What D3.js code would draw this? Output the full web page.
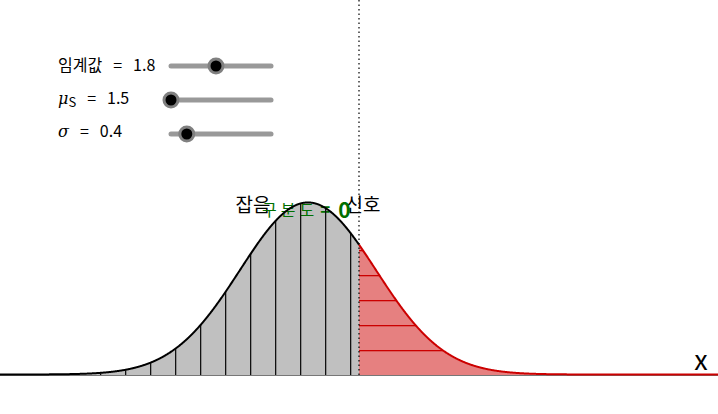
<!DOCTYPE html>
<html>
<head>
<meta charset="utf-8">
<script src="https://cdn.jsdelivr.net/npm/d3@7"></script>
<style>
  html, body { margin: 0; padding: 0; background: #fff; }
  svg { display: block; font-family: "Noto Sans CJK KR", "DejaVu Sans", sans-serif; }
</style>
</head>
<body>
<svg id="chart" width="718" height="414"></svg>
<script>
// Model parameters (signal detection: noise vs. signal distributions)
const threshold = 1.8;      // 임계값
const muS = 1.5;            // signal mean
const muN = 1.5;            // noise mean
const sigma = 0.4;          // common standard deviation
const dPrime = (muS - muN) / sigma;

// Slider definitions: value and range
const sliderNames = ["threshold", "muS", "sigma"];
const sliderValues = [threshold, muS, sigma];
const sliderMins = [0, 1.5, 0.1];
const sliderMaxs = [4, 5, 2];

// Distribution labels
const curveLabels = ["잡음", "신호"];
const axisLabel = "x";

const W = 718, H = 414;
const svg = d3.select("#chart");

const x = d3.scaleLinear().domain([-0.31, 3.91]).range([0, W]);
const y = d3.scaleLinear().domain([0, 1]).range([375, 202.5]);

const pdf = (v, m, s) => Math.exp(-0.5 * ((v - m) / s) ** 2) / (s * Math.sqrt(2 * Math.PI));

const xs = d3.range(x.domain()[0], x.domain()[1] + 0.002, 0.002);
const leftPts = xs.filter(v => v <= threshold).concat([threshold]);
const rightPts = [threshold].concat(xs.filter(v => v > threshold));

// Hatch patterns (lines only; fills are drawn separately)
const defs = svg.append("defs");
const pv = defs.append("pattern").attr("id", "vhatch")
  .attr("patternUnits", "userSpaceOnUse").attr("width", 25).attr("height", 25);
pv.append("line").attr("x1", 0.5).attr("x2", 0.5).attr("y1", 0).attr("y2", 25)
  .attr("stroke", "#111").attr("stroke-width", 1.6);
const ph = defs.append("pattern").attr("id", "hhatch")
  .attr("patternUnits", "userSpaceOnUse").attr("width", 25).attr("height", 25);
ph.append("line").attr("x1", 0).attr("x2", 25).attr("y1", 0.5).attr("y2", 0.5)
  .attr("stroke", "#cc0000").attr("stroke-width", 1.6);

const area = d3.area().x(d => x(d)).y0(y(0));
const line = d3.line().x(d => x(d));
const noiseArea = area.y1(d => y(pdf(d, muN, sigma)))(leftPts);
const signalArea = area.y1(d => y(pdf(d, muS, sigma)))(rightPts);

// Region fills
svg.append("path").attr("d", noiseArea).attr("fill", "#c0c0c0");
svg.append("path").attr("d", signalArea).attr("fill", "#e68080");

// Curve labels and discriminability readout
svg.append("text").attr("x", 253).attr("y", 212).attr("text-anchor", "middle")
  .attr("font-size", 19).text(curveLabels[0]);
svg.append("text").attr("x", 363).attr("y", 212).attr("text-anchor", "middle")
  .attr("font-size", 19).text(curveLabels[1]);
const dl = svg.append("text").attr("x", 262).attr("y", 216)
  .attr("font-size", 16).attr("fill", "#007000").attr("letter-spacing", 4);
dl.append("tspan").text("구분도");
dl.append("tspan").attr("font-weight", "bold").attr("font-size", 17).attr("dx", 2).text("=");
dl.append("tspan").attr("font-weight", "bold").attr("font-size", 21).attr("dx", 4)
  .attr("dy", 2).text(d3.format("d")(dPrime));

// Hatching over the fills
svg.append("path").attr("d", noiseArea).attr("fill", "url(#vhatch)");
svg.append("path").attr("d", signalArea).attr("fill", "url(#hhatch)");

// Axis line
svg.append("line").attr("x1", 0).attr("x2", W).attr("y1", y(0) + 0.5).attr("y2", y(0) + 0.5)
  .attr("stroke", "#777").attr("stroke-width", 1);

// Curves
svg.append("path").datum(leftPts)
  .attr("d", line.y(d => y(pdf(d, muN, sigma)) - 0.5))
  .attr("fill", "none").attr("stroke", "#000").attr("stroke-width", 2);
svg.append("path").datum(rightPts)
  .attr("d", line.y(d => y(pdf(d, muS, sigma)) - 0.5))
  .attr("fill", "none").attr("stroke", "#cc0000").attr("stroke-width", 2);

// Threshold marker
svg.append("line").attr("x1", x(threshold)).attr("x2", x(threshold))
  .attr("y1", 0).attr("y2", y(0))
  .attr("stroke", "#000").attr("stroke-width", 1.2).attr("stroke-dasharray", "1.5,3");

// Axis name
svg.append("text").attr("x", 701).attr("y", 370).attr("text-anchor", "middle")
  .attr("font-size", 27).attr("fill", "#000").text(axisLabel);

// Sliders
const sliderTrack = [[171, 271, 66], [171, 271, 100], [171, 271, 134]];
const sliderG = svg.append("g");
sliderNames.forEach((name, i) => {
  const [x0, x1, yy] = sliderTrack[i];
  const s = d3.scaleLinear().domain([sliderMins[i], sliderMaxs[i]]).range([x0, x1]);
  sliderG.append("line").attr("x1", x0).attr("x2", x1).attr("y1", yy).attr("y2", yy)
    .attr("stroke", "#999").attr("stroke-width", 5).attr("stroke-linecap", "round");
  sliderG.append("circle").attr("cx", s(sliderValues[i])).attr("cy", yy).attr("r", 7)
    .attr("fill", "#000").attr("stroke", "#808080").attr("stroke-width", 3);
});

const fmt = d3.format(".1f");
const lab = svg.append("g").attr("font-size", 16).attr("fill", "#000");
const t1 = lab.append("text").attr("x", 58).attr("y", 71);
t1.append("tspan").text("임계값");
t1.append("tspan").attr("dx", 11).text("=");
t1.append("tspan").attr("dx", 11).text(fmt(threshold));

const t2 = lab.append("text").attr("x", 58).attr("y", 104);
t2.append("tspan").attr("font-style", "italic").attr("font-family", "DejaVu Serif").text("μ");
t2.append("tspan").attr("font-size", 13).attr("dy", 3).text("S");
t2.append("tspan").attr("dy", -3).attr("dx", 11).text("=");
t2.append("tspan").attr("dx", 11).text(fmt(muS));

const t3 = lab.append("text").attr("x", 58).attr("y", 137);
t3.append("tspan").attr("font-style", "italic").attr("font-family", "DejaVu Serif").text("σ");
t3.append("tspan").attr("dx", 11).text("=");
t3.append("tspan").attr("dx", 11).text(fmt(sigma));
</script>
</body>
</html>
